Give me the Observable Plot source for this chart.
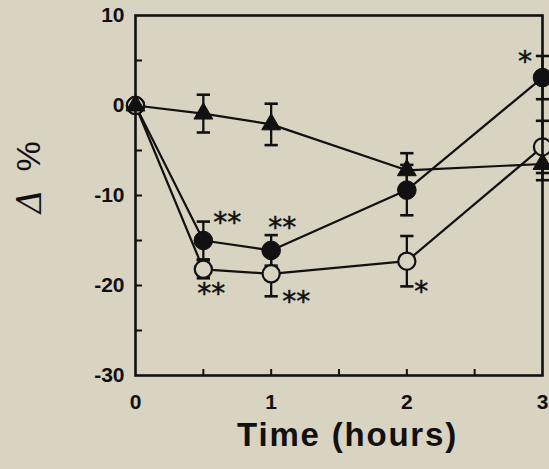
<!DOCTYPE html>
<html><head><meta charset="utf-8">
<script src="https://cdn.jsdelivr.net/npm/d3@7"></script>
<script src="https://cdn.jsdelivr.net/npm/@observablehq/plot@0.6"></script>
<style>
html,body{margin:0;padding:0;background:#d9d3c1;overflow:hidden;}
</style></head><body><div id="chart"></div>
<script>
// ---- data ----
const times = [0, 0.5, 1, 2, 3];
const filledMean = [0, -15.0, -16.1, -9.4, 3.1];
const filledErr  = [0, 2.1, 1.7, 2.8, 2.4];
const openMean   = [0, -18.2, -18.7, -17.3, -4.6];
const openErr    = [0, 1.0, 2.5, 2.8, 2.9];
const triMean    = [0, -0.9, -2.1, -7.2, -6.5];
const triErr     = [0, 2.1, 2.3, 1.9, 1.8];

const yTickLabels = [10, 0, -10, -20, -30];
const yTickMarks = [-25, -20, -15, -10, -5, 0, 5];
const xTickLabels = [0, 1, 2, 3];
const xTickMarks = [0.5, 1, 1.5, 2, 2.5];

const starSeries = ["filled", "filled", "open", "open", "open", "filled"];
const starTime   = [0.5, 1, 0.5, 1, 2, 3];
const starLabel  = ["**", "**", "**", "**", "*", "*"];

// ---- build table ----
const seriesDefs = [
  {name: "filled", mean: filledMean, err: filledErr},
  {name: "open", mean: openMean, err: openErr},
  {name: "tri", mean: triMean, err: triErr}
];
const rows = seriesDefs.flatMap(s => times.map((t, i) => ({series: s.name, t, v: s.mean[i], e: s.err[i]})));
const bySeries = name => rows.filter(r => r.series === name);
const errRows = rows.filter(r => r.e > 0);
const stars = starLabel.map((label, i) => {
  const r = rows.find(d => d.series === starSeries[i] && d.t === starTime[i]);
  return {label, t: r.t, v: r.v};
});
// per-annotation offsets (style)
const starOffsets = [[24, -17.5], [11, -22.5], [8, 25], [25, 28.5], [14.5, 30.5], [-17.5, -15.5]];

const ink = "#111";
const bg = "#d9d3c1";
const capSymbol = {draw(ctx, size) { const w = Math.sqrt(size) / 2; ctx.moveTo(-w, 0); ctx.lineTo(w, 0); }};
const fmt = d => String(d);

const starMarks = stars.map((s, i) => Plot.text([s], {
  x: "t", y: "v", text: "label", dx: starOffsets[i][0], dy: starOffsets[i][1],
  fontSize: 28, fontFamily: "'DejaVu Sans', sans-serif", fill: ink, stroke: ink, strokeWidth: 0.5, textAnchor: "middle"
}));

const chart = Plot.plot({
  width: 549,
  height: 469,
  marginLeft: 135,
  marginRight: 7,
  marginTop: 15,
  marginBottom: 94,
  style: {fontFamily: "'Liberation Sans', Arial, sans-serif", background: bg, color: ink},
  x: {domain: [0, 3]},
  y: {domain: [-30, 10]},
  marks: [
    Plot.axisY({ticks: yTickLabels, tickFormat: fmt, tickSize: 0, tickPadding: 11, fontSize: 21, fontWeight: "bold", label: null}),
    Plot.axisY({ticks: yTickMarks, tickSize: 7, dx: 7, text: null, strokeWidth: 2, label: null}),
    Plot.axisX({ticks: xTickLabels, tickFormat: fmt, tickSize: 0, tickPadding: 19, fontSize: 21, fontWeight: "bold", label: null}),
    Plot.axisX({ticks: xTickMarks, tickSize: 6, dy: -6, text: null, strokeWidth: 2, label: null}),
    Plot.line(rows, {x: "t", y: "v", z: "series", stroke: ink, strokeWidth: 2.2}),
    Plot.ruleX(errRows, {x: "t", y1: d => d.v - d.e, y2: d => d.v + d.e, stroke: ink, strokeWidth: 2.3}),
    Plot.dot(errRows, {x: "t", y: d => d.v + d.e, symbol: capSymbol, r: 7.5, stroke: ink, strokeWidth: 2.6}),
    Plot.dot(errRows, {x: "t", y: d => d.v - d.e, symbol: capSymbol, r: 7.5, stroke: ink, strokeWidth: 2.6}),
    Plot.dot(bySeries("filled"), {x: "t", y: "v", r: 9.3, fill: ink, stroke: ink, strokeWidth: 1}),
    Plot.dot(bySeries("open"), {x: "t", y: "v", r: 8.6, fill: bg, stroke: ink, strokeWidth: 2.2}),
    Plot.dot(bySeries("tri"), {x: "t", y: "v", r: 7, symbol: "triangle", fill: ink, stroke: ink, strokeWidth: 1}),
    ...starMarks,
    Plot.frame({stroke: ink, strokeWidth: 2.6}),
    Plot.text(["Δ"], {frameAnchor: "left", textAnchor: "middle", lineAnchor: "middle", dx: -105, dy: 6, rotate: -90, fontSize: 34, fontStyle: "italic", fontFamily: "'DejaVu Serif', serif", fill: ink}),
    Plot.text(["%"], {frameAnchor: "left", textAnchor: "middle", lineAnchor: "middle", dx: -106, dy: -39, rotate: -90, fontSize: 34, fontFamily: "'Liberation Sans Narrow', 'Liberation Sans', sans-serif", fill: ink}),
    Plot.text(["Time (hours)"], {frameAnchor: "bottom", textAnchor: "middle", lineAnchor: "middle", dx: 8.5, dy: 59.5, fontSize: 33, fontWeight: "bold", fill: ink})
  ]
});
d3.select(chart).selectAll("text")
  .filter(function() { return this.textContent === "Time (hours)"; })
  .style("letter-spacing", "1.8px");
document.getElementById("chart").append(chart);
</script></body></html>
